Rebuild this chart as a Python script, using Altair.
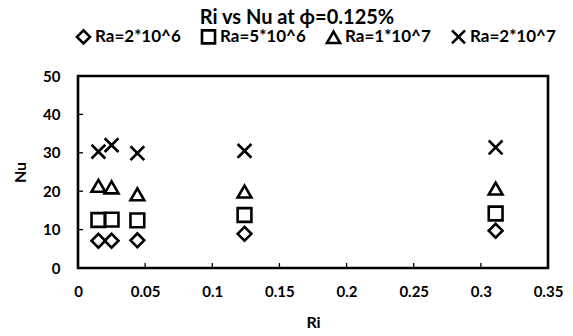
import altair as alt
import pandas as pd

# Data
ri = [0.0152, 0.025, 0.0442, 0.124, 0.311]
series = ["Ra=2*10^6", "Ra=5*10^6", "Ra=1*10^7", "Ra=2*10^7"]
nu_2e6 = [7.1, 7.1, 7.2, 8.9, 9.7]
nu_5e6 = [12.5, 12.6, 12.4, 13.8, 14.2]
nu_1e7 = [21.4, 21.0, 19.2, 19.9, 20.7]
nu_2e7 = [30.3, 32.0, 29.9, 30.5, 31.4]
title_text = ["Ri vs Nu at ϕ=0.125%"]

x_ticks = [0, 0.05, 0.1, 0.15, 0.2, 0.25, 0.3, 0.35]
y_ticks = [0, 10, 20, 30, 40, 50]
x_inner = [0.05, 0.1, 0.15, 0.2, 0.25, 0.3]
y_inner = [10, 20, 30, 40]

rows = []
for name, vals in zip(series, [nu_2e6, nu_5e6, nu_1e7, nu_2e7]):
    for r, v in zip(ri, vals):
        rows.append({"Ri": r, "Nu": v, "Series": name})
df = pd.DataFrame(rows)

FONT = "Lato"
W, H = 470, 192

xscale = alt.Scale(domain=[0, 0.35], nice=False, zero=False)
yscale = alt.Scale(domain=[0, 50], nice=False)

shape_range = ["diamond", "square", "triangle-up", "M-1,-1L1,1M1,-1L-1,1"]

axis_style = dict(labelFont=FONT, labelFontSize=15, labelFontWeight="bold", labelColor="black",
                  titleFont=FONT, titleFontSize=16, titleFontWeight="bold", titleColor="black",
                  grid=False, ticks=False, domain=False, labelOverlap=False, labelFlush=False)

x_axis = alt.Axis(title="Ri", values=x_ticks, format="~g", labelPadding=16,
                  titlePadding=15, **axis_style)
y_axis = alt.Axis(title="Nu", values=y_ticks, labelPadding=18, titlePadding=14,
                  **axis_style)

points = alt.Chart(df).mark_point(
    filled=False, stroke="black", strokeWidth=2.6, size=190, opacity=1
).encode(
    x=alt.X("Ri:Q", scale=xscale, axis=x_axis),
    y=alt.Y("Nu:Q", scale=yscale, axis=y_axis),
    shape=alt.Shape("Series:N", sort=series,
                    scale=alt.Scale(domain=series, range=shape_range),
                    legend=alt.Legend(title=None, orient="none", direction="horizontal",
                                      legendX=-3, legendY=-48, columnPadding=15,
                                      symbolSize=170, symbolStrokeWidth=2.6,
                                      symbolStrokeColor="black", symbolFillColor="transparent",
                                      labelFontSize=17, labelFont=FONT, labelFontWeight="bold",
                                      labelColor="black", labelOffset=3)),
)

xt = alt.Chart(pd.DataFrame({"Ri": x_inner})).mark_rule(color="black", strokeWidth=1.3).encode(
    x=alt.X("Ri:Q", scale=xscale, axis=x_axis), y=alt.value(H), y2=alt.value(H - 5)
)
yt = alt.Chart(pd.DataFrame({"Nu": y_inner})).mark_rule(color="black", strokeWidth=1.3).encode(
    y=alt.Y("Nu:Q", scale=yscale, axis=y_axis), x=alt.value(0), x2=alt.value(5)
)

title = alt.Chart(pd.DataFrame({"title": title_text})).mark_text(
    font=FONT, fontSize=20, fontWeight="bold", color="black", align="center", baseline="alphabetic"
).encode(
    text="title:N", x=alt.value(219), y=alt.value(-52)
)

chart = alt.layer(points, xt, yt, title).properties(
    width=W, height=H,
    background="white",
    view=alt.ViewBackground(stroke="black", strokeWidth=2.6),
    autosize=alt.AutoSizeParams(type="none"),
    padding={"left": 70, "top": 68, "right": 17, "bottom": 66},
).configure_view(
    stroke="black", strokeWidth=2.6
)

chart.save("out.html", embed_options={"renderer": "svg", "actions": False})
